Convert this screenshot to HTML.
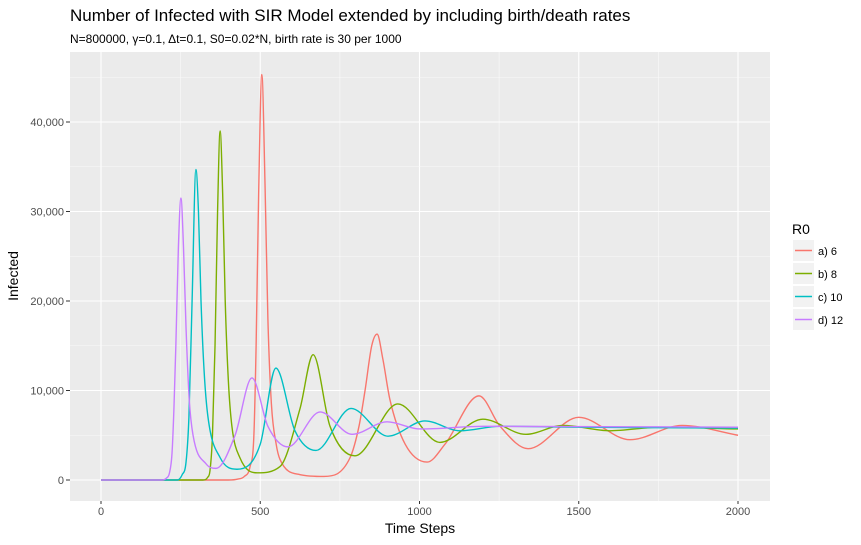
<!DOCTYPE html>
<html><head><meta charset="utf-8"><style>
body{margin:0;background:#fff;}
svg{display:block;font-family:"Liberation Sans",sans-serif;}
</style></head><body>
<svg id="chart" width="861" height="545">
<text x="70" y="21" font-size="17" fill="#000">Number of Infected with SIR Model extended by including birth/death rates</text>
<text x="70" y="43" font-size="12" fill="#000">N=800000, γ=0.1, Δt=0.1, S0=0.02*N, birth rate is 30 per 1000</text>
<rect x="70" y="52" width="700" height="449" fill="#ebebeb"/>
<g id="grid"></g><g id="series"></g><g id="axes"></g>
<text x="420" y="533" font-size="14" text-anchor="middle">Time Steps</text>
<text transform="translate(18,276) rotate(-90)" font-size="14" text-anchor="middle">Infected</text>
<text x="792" y="234" font-size="14">R0</text>
<g id="legend"></g>
</svg>
<script>
const xTicks=[0,500,1000,1500,2000];
const yTicks=[0,10000,20000,30000,40000];
const seriesNames=["a) 6","b) 8","c) 10","d) 12"];
const colors=["#F8766D","#7CAE00","#00BFC4","#C77CFF"];
const tA=[0,400,430,450,468,480,487,495,505,515,524,535,550,562,625,700,782,810,829,850,867,885,907,955,1024,1080,1187,1253,1341,1500,1661,1824,2000];
const vA=[0,0,100,400,1500,5000,15000,32000,45300,33000,18000,8500,4000,2300,600,400,2500,6000,10000,15000,16300,13500,9000,4000,2000,4000,9400,6000,3500,7000,4500,6100,5000];
const tB=[0,320,335,342,350,358,366,374,382,390,400,411,436,490,562,625,666,719,797,932,1064,1199,1334,1450,1598,1755,2000];
const vB=[0,0,300,1000,5000,15000,30000,39000,32000,20000,11000,6000,2500,800,1500,8000,14000,6000,2700,8500,4200,6800,5100,6100,5500,5900,5700];
const tC=[0,240,255,267,276,286,298,306,314,324,336,374,427,500,549,609,675,785,901,1017,1127,1253,1500,2000];
const vC=[0,0,600,2000,7000,20000,34700,30000,20000,12000,7000,2500,1200,4000,12500,5500,3300,8000,4900,6600,5500,6000,5900,5800];
const tD=[0,190,205,215,223,229,235,243,251,259,267,277,289,330,361,421,474,524,587,688,788,898,1002,1200,2000];
const vD=[0,0,200,800,3000,8000,15000,26000,31500,26000,17000,9000,5000,1800,1300,5000,11400,6000,3700,7600,5100,6500,5700,6000,5900];
const ts=[tA,tB,tC,tD], vs=[vA,vB,vC,vD];
const X=t=>101+t*(738-101)/2000;
const Y=v=>480-v*0.00895;
const NS="http://www.w3.org/2000/svg";
function mk(tag,attrs,parent){const e=document.createElementNS(NS,tag);for(const k in attrs)e.setAttribute(k,attrs[k]);parent.appendChild(e);return e;}
const grid=document.getElementById('grid'),axes=document.getElementById('axes');
for(let i=0;i<xTicks.length;i++){
  const x=X(xTicks[i]);
  const g=mk('line',{x1:x,x2:x,y1:52,y2:501,stroke:'#fff','stroke-width':1.1},grid);
  
  
  if(i<xTicks.length-1){const xm=X((xTicks[i]+xTicks[i+1])/2);
    const m=mk('line',{x1:xm,x2:xm,y1:52,y2:501,stroke:'#fafafa','stroke-width':0.6},grid);
    
    }
  const tk=mk('line',{x1:x,x2:x,y1:501,y2:504,stroke:'#333'},axes);
  
  
  const lb=mk('text',{x:x,y:515,'font-size':11,'text-anchor':'middle',fill:'#4d4d4d'},axes);
  lb.textContent=xTicks[i];
  
  
}
for(let i=0;i<yTicks.length;i++){
  const y=Y(yTicks[i]);
  const g=mk('line',{x1:70,x2:770,y1:y,y2:y,stroke:'#fff','stroke-width':1.1},grid);
  
  
  const ym=Y(yTicks[i]+5000);
  const m=mk('line',{x1:70,x2:770,y1:ym,y2:ym,stroke:'#fafafa','stroke-width':0.6},grid);
  
  
  const tk=mk('line',{x1:66,x2:70,y1:y,y2:y,stroke:'#333'},axes);
  
  
  const lb=mk('text',{x:64,y:y+4,'font-size':11,'text-anchor':'end',fill:'#4d4d4d'},axes);
  lb.textContent=yTicks[i].toLocaleString('en-US');
  
  
}
function monotone(px,py){
  const n=px.length,d=[],m=new Array(n);
  for(let i=0;i<n-1;i++)d.push((py[i+1]-py[i])/(px[i+1]-px[i]));
  m[0]=d[0];m[n-1]=d[n-2];
  for(let i=1;i<n-1;i++){m[i]=(d[i-1]*d[i]<=0)?0:(d[i-1]+d[i])/2;}
  for(let i=0;i<n-1;i++){if(d[i]===0){m[i]=0;m[i+1]=0;continue;}
    const a=m[i]/d[i],b=m[i+1]/d[i],s=a*a+b*b;
    if(s>9){const t=3/Math.sqrt(s);m[i]=t*a*d[i];m[i+1]=t*b*d[i];}}
  let p='M'+px[0]+','+py[0];
  for(let i=0;i<n-1;i++){const h=(px[i+1]-px[i])/3;
    p+=' C'+(px[i]+h)+','+(py[i]+m[i]*h)+' '+(px[i+1]-h)+','+(py[i+1]-m[i+1]*h)+' '+px[i+1]+','+py[i+1];}
  return p;
}
const sg=document.getElementById('series');
for(let s=0;s<4;s++){
  const p=mk('path',{d:monotone(ts[s].map(X),vs[s].map(Y)),fill:'none',stroke:colors[s],'stroke-width':1.4},sg);
  
  
}
const lg=document.getElementById('legend');
for(let s=0;s<4;s++){
  const y0=240+s*23;
  const r=mk('rect',{x:793,y:y0,width:21,height:21,fill:'#f2f2f2'},lg);
  
  
  const l=mk('line',{x1:795,x2:812,y1:y0+10.5,y2:y0+10.5,stroke:colors[s],'stroke-width':1.4},lg);
  
  
  const t=mk('text',{x:818,y:y0+15,'font-size':11},lg);
  t.textContent=seriesNames[s];
  
  
}
</script>
</body></html>
